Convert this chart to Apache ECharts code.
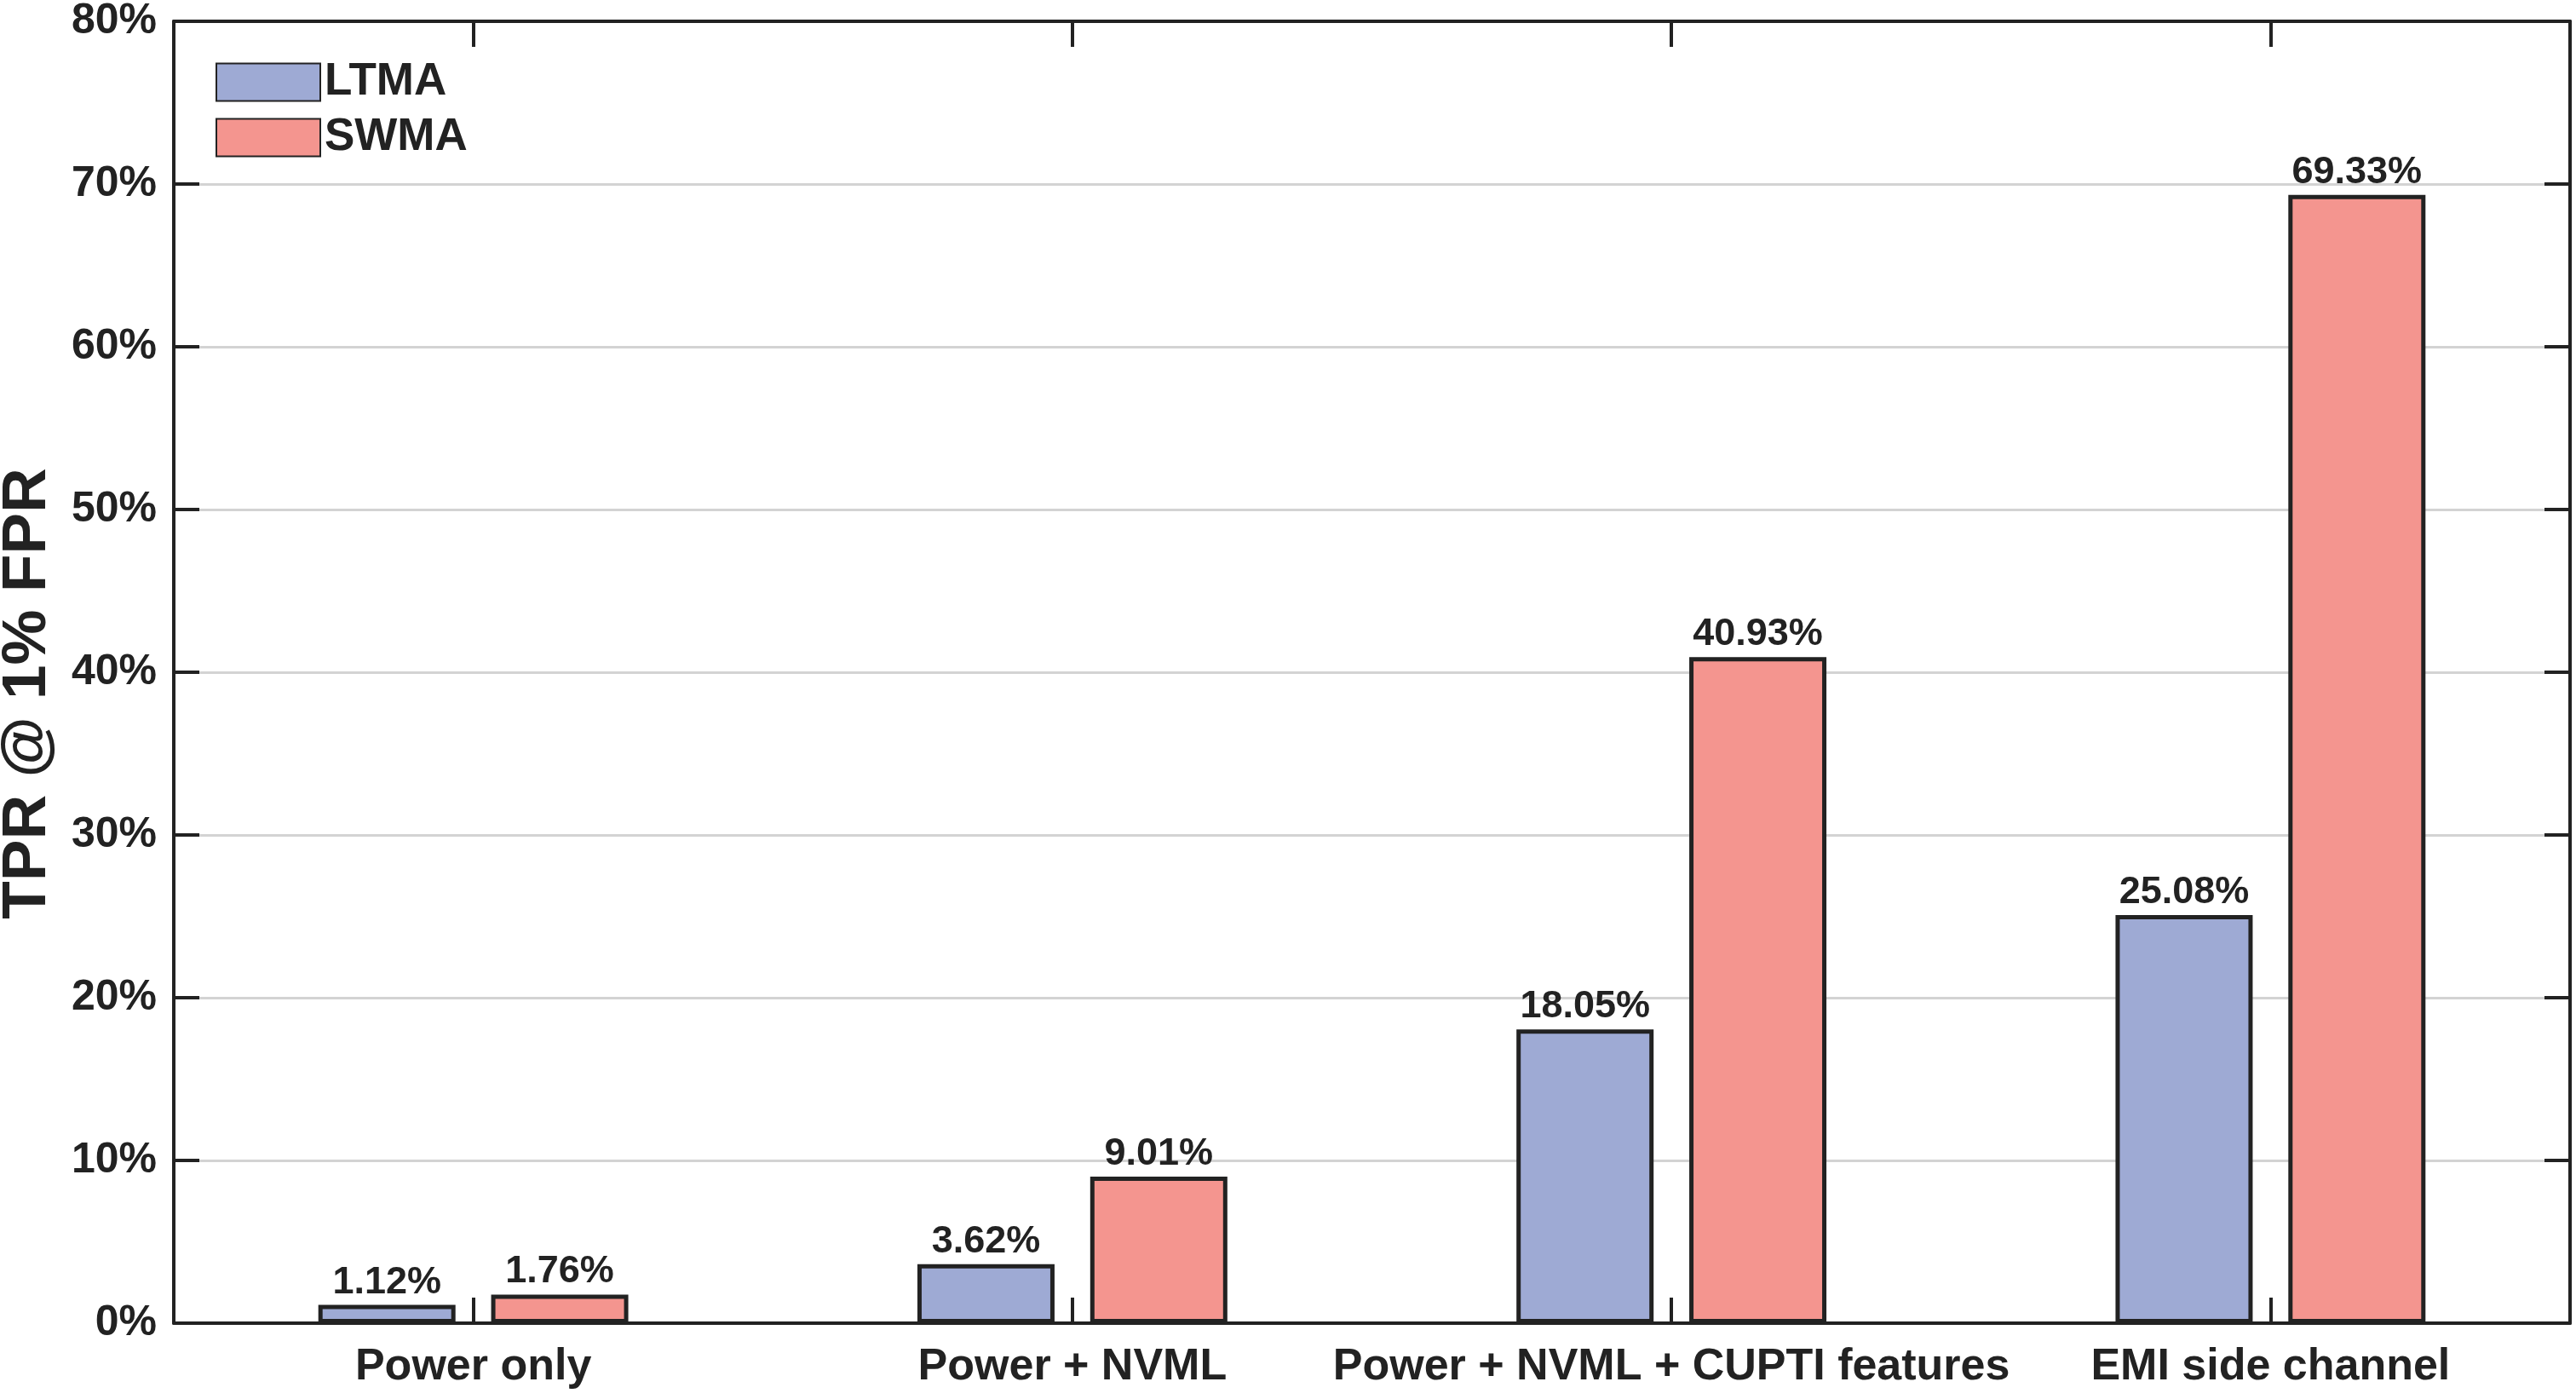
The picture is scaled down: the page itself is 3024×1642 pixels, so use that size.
<!DOCTYPE html>
<html>
<head>
<meta charset="utf-8">
<script src="https://cdn.jsdelivr.net/npm/echarts@6/dist/echarts.min.js"></script>
<style>
html, body { margin: 0; padding: 0; background: #fff; }
#chart { width: 3024px; height: 1642px; }
</style>
</head>
<body>
<div id="chart"></div>
<script>
// data
var categories = ['Power only', 'Power + NVML', 'Power + NVML + CUPTI features', 'EMI side channel'];
var ltma = [1.12, 3.62, 18.05, 25.08];
var swma = [1.76, 9.01, 40.93, 69.33];
var seriesNames = ['LTMA', 'SWMA'];
var yTicks = [0, 10, 20, 30, 40, 50, 60, 70, 80];

var FONT = "'Liberation Sans', Arial, Helvetica, sans-serif";
var INK = '#222222';

function barLabel() {
    return {
        show: true,
        position: 'top',
        distance: 4,
        color: INK,
        fontFamily: FONT,
        fontWeight: 'bold',
        fontSize: 45,
        formatter: function (p) { return p.value.toFixed(2) + '%'; }
    };
}

// axis line + inward ticks, MATLAB "box on" look
var frameLine = { show: true, onZero: false, lineStyle: { color: INK, width: 4 } };
var frameTick = { show: true, inside: true, length: 30, lineStyle: { color: INK, width: 4 } };

var option = {
    backgroundColor: '#ffffff',
    animation: false,
    grid: { left: 204, right: 7, top: 25, bottom: 89, containLabel: false, outerBoundsMode: 'none' },
    legend: {
        orient: 'vertical',
        left: 253,
        top: 70,
        padding: 0,
        itemWidth: 122,
        itemHeight: 44,
        itemGap: 12,
        icon: 'rect',
        data: seriesNames,
        textStyle: {
            color: INK,
            fontFamily: FONT,
            fontWeight: 'bold',
            fontSize: 53,
            lineHeight: 44
        }
    },
    xAxis: [
        {
            type: 'category',
            data: categories,
            position: 'bottom',
            axisLine: frameLine,
            axisTick: Object.assign({ alignWithLabel: true, interval: 0 }, frameTick),
            axisLabel: { interval: 0, color: INK, fontFamily: FONT, fontWeight: 'bold', fontSize: 52, margin: 26 },
            splitLine: { show: false }
        },
        {
            type: 'category',
            data: categories,
            position: 'top',
            axisLine: frameLine,
            axisTick: Object.assign({ alignWithLabel: true, interval: 0 }, frameTick),
            axisLabel: { show: false, interval: 0 },
            splitLine: { show: false }
        }
    ],
    yAxis: [
        {
            type: 'value',
            min: yTicks[0],
            max: yTicks[yTicks.length - 1],
            interval: 10,
            position: 'left',
            name: 'TPR @ 1% FPR',
            nameLocation: 'middle',
            nameGap: 135,
            nameTextStyle: { color: INK, fontFamily: FONT, fontWeight: 'bold', fontSize: 73, padding: [0, 50, 0, 0] },
            axisLine: frameLine,
            axisTick: frameTick,
            axisLabel: { color: INK, fontFamily: FONT, fontWeight: 'bold', fontSize: 50, margin: 20, formatter: '{value}%' },
            splitLine: { show: false }
        },
        {
            type: 'value',
            min: yTicks[0],
            max: yTicks[yTicks.length - 1],
            interval: 10,
            position: 'right',
            axisLine: frameLine,
            axisTick: frameTick,
            axisLabel: { show: false },
            splitLine: { show: false }
        },
        {
            // gridlines only, kept underneath the frame ticks
            type: 'value',
            min: yTicks[0],
            max: yTicks[yTicks.length - 1],
            interval: 10,
            z: -1,
            axisLine: { show: false },
            axisTick: { show: false },
            axisLabel: { show: false },
            splitLine: { show: true, lineStyle: { color: '#d3d3d3', width: 3 } }
        }
    ],
    series: [
        {
            name: seriesNames[0],
            type: 'bar',
            data: ltma,
            barWidth: 161,
            barGap: '26%',
            itemStyle: { color: '#9eaad4', borderColor: INK, borderWidth: 5 },
            label: barLabel()
        },
        {
            name: seriesNames[1],
            type: 'bar',
            data: swma,
            barWidth: 161,
            barGap: '26%',
            itemStyle: { color: '#f4958f', borderColor: INK, borderWidth: 5 },
            label: barLabel()
        }
    ]
};

var chart = echarts.init(document.getElementById('chart'), null, { renderer: 'canvas' });
chart.setOption(option);
</script>
</body>
</html>
